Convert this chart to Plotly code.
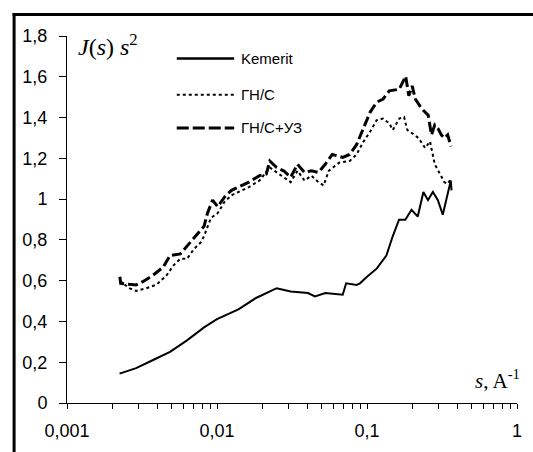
import plotly.graph_objects as go

# ---- data ----
kem_s = [0.00224, 0.00289, 0.00375, 0.00486, 0.00631, 0.0082, 0.0100, 0.0139, 0.0182,
         0.0202, 0.0250, 0.0310, 0.0404, 0.0450, 0.0527, 0.0689, 0.0726, 0.0852, 0.0898,
         0.100, 0.116, 0.1346, 0.1486, 0.1635, 0.180, 0.198, 0.218, 0.2377, 0.255,
         0.275, 0.297, 0.320, 0.344, 0.362, 0.366]
kem_v = [0.144, 0.171, 0.211, 0.251, 0.307, 0.371, 0.411, 0.459, 0.515,
         0.531, 0.563, 0.547, 0.539, 0.523, 0.539, 0.531, 0.587, 0.579, 0.587,
         0.619, 0.659, 0.723, 0.819, 0.899, 0.899, 0.947, 0.915, 1.035, 0.995,
         1.035, 0.995, 0.923, 1.027, 1.091, 1.043]

gns_s = [0.00225, 0.0026, 0.00289, 0.00338, 0.00395, 0.00462, 0.00513, 0.00569, 0.00631,
         0.00701, 0.00778, 0.0082, 0.0091, 0.01011, 0.01124, 0.0125, 0.0139, 0.0163,
         0.0192, 0.0225, 0.025, 0.0278, 0.031, 0.0344, 0.0383, 0.0426, 0.0474, 0.0514,
         0.0556, 0.0653, 0.0766, 0.0852, 0.0948, 0.105, 0.116, 0.128, 0.141, 0.1486,
         0.164, 0.1767, 0.1857, 0.200, 0.221, 0.244, 0.263, 0.283, 0.305, 0.328, 0.345, 0.363]
gns_v = [0.600, 0.563, 0.550, 0.563, 0.580, 0.627, 0.675, 0.707, 0.707,
         0.755, 0.787, 0.819, 0.907, 0.931, 0.987, 1.019, 1.035, 1.059,
         1.091, 1.155, 1.131, 1.107, 1.083, 1.139, 1.091, 1.115, 1.083, 1.067,
         1.139, 1.179, 1.187, 1.219, 1.283, 1.331, 1.387, 1.395, 1.371, 1.339,
         1.395, 1.403, 1.339, 1.323, 1.299, 1.251, 1.283, 1.171, 1.123, 1.083, 1.075, 1.100]

uz_s = [0.00225, 0.00228, 0.0026, 0.00289, 0.0032, 0.00375, 0.00438, 0.00486, 0.00569,
        0.00631, 0.00701, 0.00778, 0.0082, 0.00864, 0.00934, 0.01011, 0.01124, 0.0125,
        0.0139, 0.0163, 0.0192, 0.0213, 0.0225, 0.025, 0.0278, 0.031, 0.0344, 0.0383,
        0.0426, 0.0474, 0.0527, 0.0587, 0.0689, 0.0766, 0.0852, 0.0948, 0.105, 0.116,
        0.128, 0.141, 0.164, 0.181, 0.190, 0.200, 0.210, 0.232, 0.256, 0.269, 0.283,
        0.297, 0.313, 0.328, 0.345, 0.363]
uz_v = [0.619, 0.587, 0.582, 0.579, 0.595, 0.627, 0.667, 0.723, 0.731,
        0.771, 0.811, 0.851, 0.867, 0.931, 0.995, 0.963, 1.011, 1.043,
        1.059, 1.083, 1.115, 1.123, 1.187, 1.155, 1.139, 1.107, 1.171, 1.131,
        1.139, 1.131, 1.171, 1.219, 1.205, 1.219, 1.267, 1.347, 1.427, 1.475,
        1.491, 1.531, 1.539, 1.603, 1.507, 1.555, 1.491, 1.443, 1.411, 1.315, 1.363,
        1.347, 1.315, 1.299, 1.315, 1.259]

names = ["Kemerit", "ГН/С", "ГН/С+УЗ"]

y_ticks = [0, 0.2, 0.4, 0.6, 0.8, 1.0, 1.2, 1.4, 1.6, 1.8]
y_ticktext = ["0", "0,2", "0,4", "0,6", "0,8", "1", "1,2", "1,4", "1,6", "1,8"]
x_ticks = [0.001, 0.01, 0.1, 1]
x_ticktext = ["0,001", "0,01", "0,1", "1"]

# ---- figure ----
W, H = 533, 452
L, R, T, B = 67, 11, 36, 41
pw, ph = W - L - R, H - T - B

def px(x):
    return (x - L) / pw

def py(y):
    return (H - B - y) / ph

DASH = "10px,4px"

fig = go.Figure()
fig.add_trace(go.Scatter(x=kem_s, y=kem_v, mode="lines", name=names[0],
                         line=dict(color="black", width=2)))
fig.add_trace(go.Scatter(x=gns_s, y=gns_v, mode="lines", name=names[1],
                         line=dict(color="black", width=2, dash="dot")))
fig.add_trace(go.Scatter(x=uz_s, y=uz_v, mode="lines", name=names[2],
                         line=dict(color="black", width=3, dash=DASH)))

minor_vals = [m * d for d in (0.001, 0.01, 0.1) for m in range(2, 10)]

fig.update_xaxes(type="log", range=[-3, 0], showline=True, linecolor="black", linewidth=1,
                 ticks="outside", ticklen=5, tickcolor="black", tickwidth=1,
                 tickvals=x_ticks, ticktext=x_ticktext, showgrid=False, zeroline=False,
                 ticklabelstandoff=6,
                 tickfont=dict(family="Liberation Sans", size=18, color="black"),
                 minor=dict(tickvals=minor_vals, ticks="outside", ticklen=5,
                            tickcolor="black", showgrid=False))
fig.update_yaxes(range=[0, 1.8], showline=True, linecolor="black", linewidth=1,
                 ticks="outside", ticklen=7, tickcolor="black", tickwidth=1,
                 tickvals=y_ticks, ticktext=y_ticktext, showgrid=False, zeroline=False,
                 ticklabelstandoff=8,
                 tickfont=dict(family="Liberation Sans", size=18, color="black"))

shapes = [
    dict(type="line", xref="paper", yref="paper", x0=px(13.5), x1=px(13.5), y0=py(12.5), y1=py(470),
         line=dict(color="black", width=3)),
    dict(type="line", xref="paper", yref="paper", x0=px(12), x1=px(540), y0=py(14), y1=py(14),
         line=dict(color="black", width=3)),
]
leg_rows = [59, 96, 130]
leg_dash = ["solid", "dot", "12px,4px"]
leg_w = [2.5, 2, 3]
annotations = []
for i, yy in enumerate(leg_rows):
    shapes.append(dict(type="line", xref="paper", yref="paper", x0=px(178), x1=px(236),
                       y0=py(yy), y1=py(yy), line=dict(color="black", width=leg_w[i], dash=leg_dash[i])))
    annotations.append(dict(xref="paper", yref="paper", x=px(241), y=py(yy), text=names[i],
                            showarrow=False, xanchor="left", yanchor="middle",
                            font=dict(family="Liberation Sans", size=15, color="black")))

annotations.append(dict(xref="paper", yref="paper", x=px(76), y=py(45),
                        text="<i>J</i>(<i>s</i>) <i>s</i><sup>2</sup>", showarrow=False,
                        xanchor="left", yanchor="middle",
                        font=dict(family="Liberation Serif", size=24, color="black")))
annotations.append(dict(xref="paper", yref="paper", x=px(527), y=py(387),
                        text="<i>s</i>, A<sup>-1</sup>", showarrow=False,
                        xanchor="right", yanchor="middle",
                        font=dict(family="Liberation Serif", size=21, color="black")))

fig.update_layout(width=W, height=H, margin=dict(l=L, r=R, t=T, b=B),
                  plot_bgcolor="white", paper_bgcolor="white", showlegend=False,
                  shapes=shapes, annotations=annotations)

fig.write_html("out.html", config={"displayModeBar": False},
               post_script="document.body.style.margin='0px';document.body.style.overflow='hidden';")
